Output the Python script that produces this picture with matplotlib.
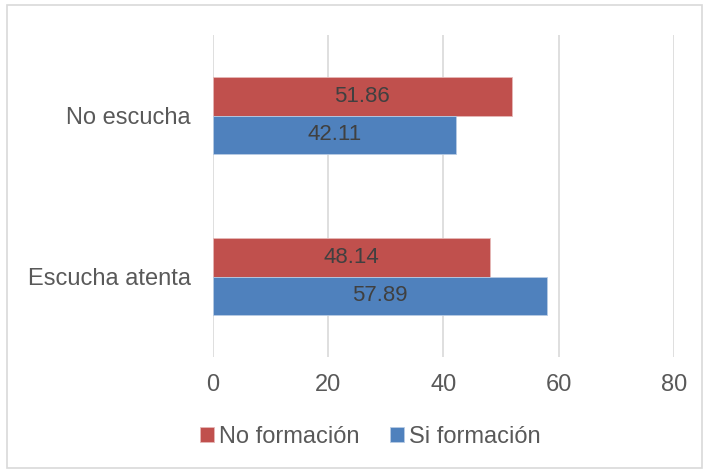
import matplotlib.pyplot as plt
from matplotlib.patches import Rectangle
import numpy as np

# Datos
categorias = ["Escucha atenta", "No escucha"]
no_formacion = [48.14, 51.86]
si_formacion = [57.89, 42.11]
ticks_x = [0, 20, 40, 60, 80]

rojo = "#C0504D"
azul = "#4F81BD"
gris_texto = "#595959"

plt.rcParams["font.family"] = ["Liberation Sans", "DejaVu Sans"]

fig = plt.figure(figsize=(7.09, 4.70), dpi=100)
ax = fig.add_axes([0.3004, 0.2404, 0.6502, 0.6851])

y = np.arange(len(categorias))
h = 0.24

b1 = ax.barh(y + h / 2, no_formacion, height=h, color=rojo,
             edgecolor="#E6B8B7", linewidth=0.6, label="No formación", zorder=3)
b2 = ax.barh(y - h / 2, si_formacion, height=h, color=azul,
             edgecolor="#B8CCE4", linewidth=0.6, label="Si formación", zorder=3)

for barras, vals in [(b1, no_formacion), (b2, si_formacion)]:
    for b, v in zip(barras, vals):
        ax.text(v / 2, b.get_y() + b.get_height() / 2, f"{v:.2f}",
                ha="center", va="center", fontsize=16, color="#404040", zorder=4)

ax.set_xlim(0, 80)
ax.set_ylim(-0.5, 1.5)
ax.set_xticks(ticks_x)
ax.set_yticks(y)
ax.set_yticklabels(categorias)
ax.tick_params(axis="both", length=0, labelsize=17, labelcolor=gris_texto)
ax.tick_params(axis="x", pad=12)
ax.tick_params(axis="y", pad=16)
ax.grid(axis="x", color="#D9D9D9", linewidth=1.2, zorder=0)
for s in ax.spines.values():
    s.set_visible(False)

fig.legend(handles=[b1, b2], loc="center", bbox_to_anchor=(0.522, 0.07),
           ncol=2, frameon=False, fontsize=17, labelcolor=gris_texto,
           handlelength=0.6, handleheight=0.6, handletextpad=0.2,
           columnspacing=1.3)

# Borde del gráfico
fig.patches.append(Rectangle((0.0099, 0.004), 0.980, 0.985, transform=fig.transFigure,
                             fill=False, edgecolor="#D9D9D9", linewidth=1.2))

fig.savefig("out.png", dpi=100)
